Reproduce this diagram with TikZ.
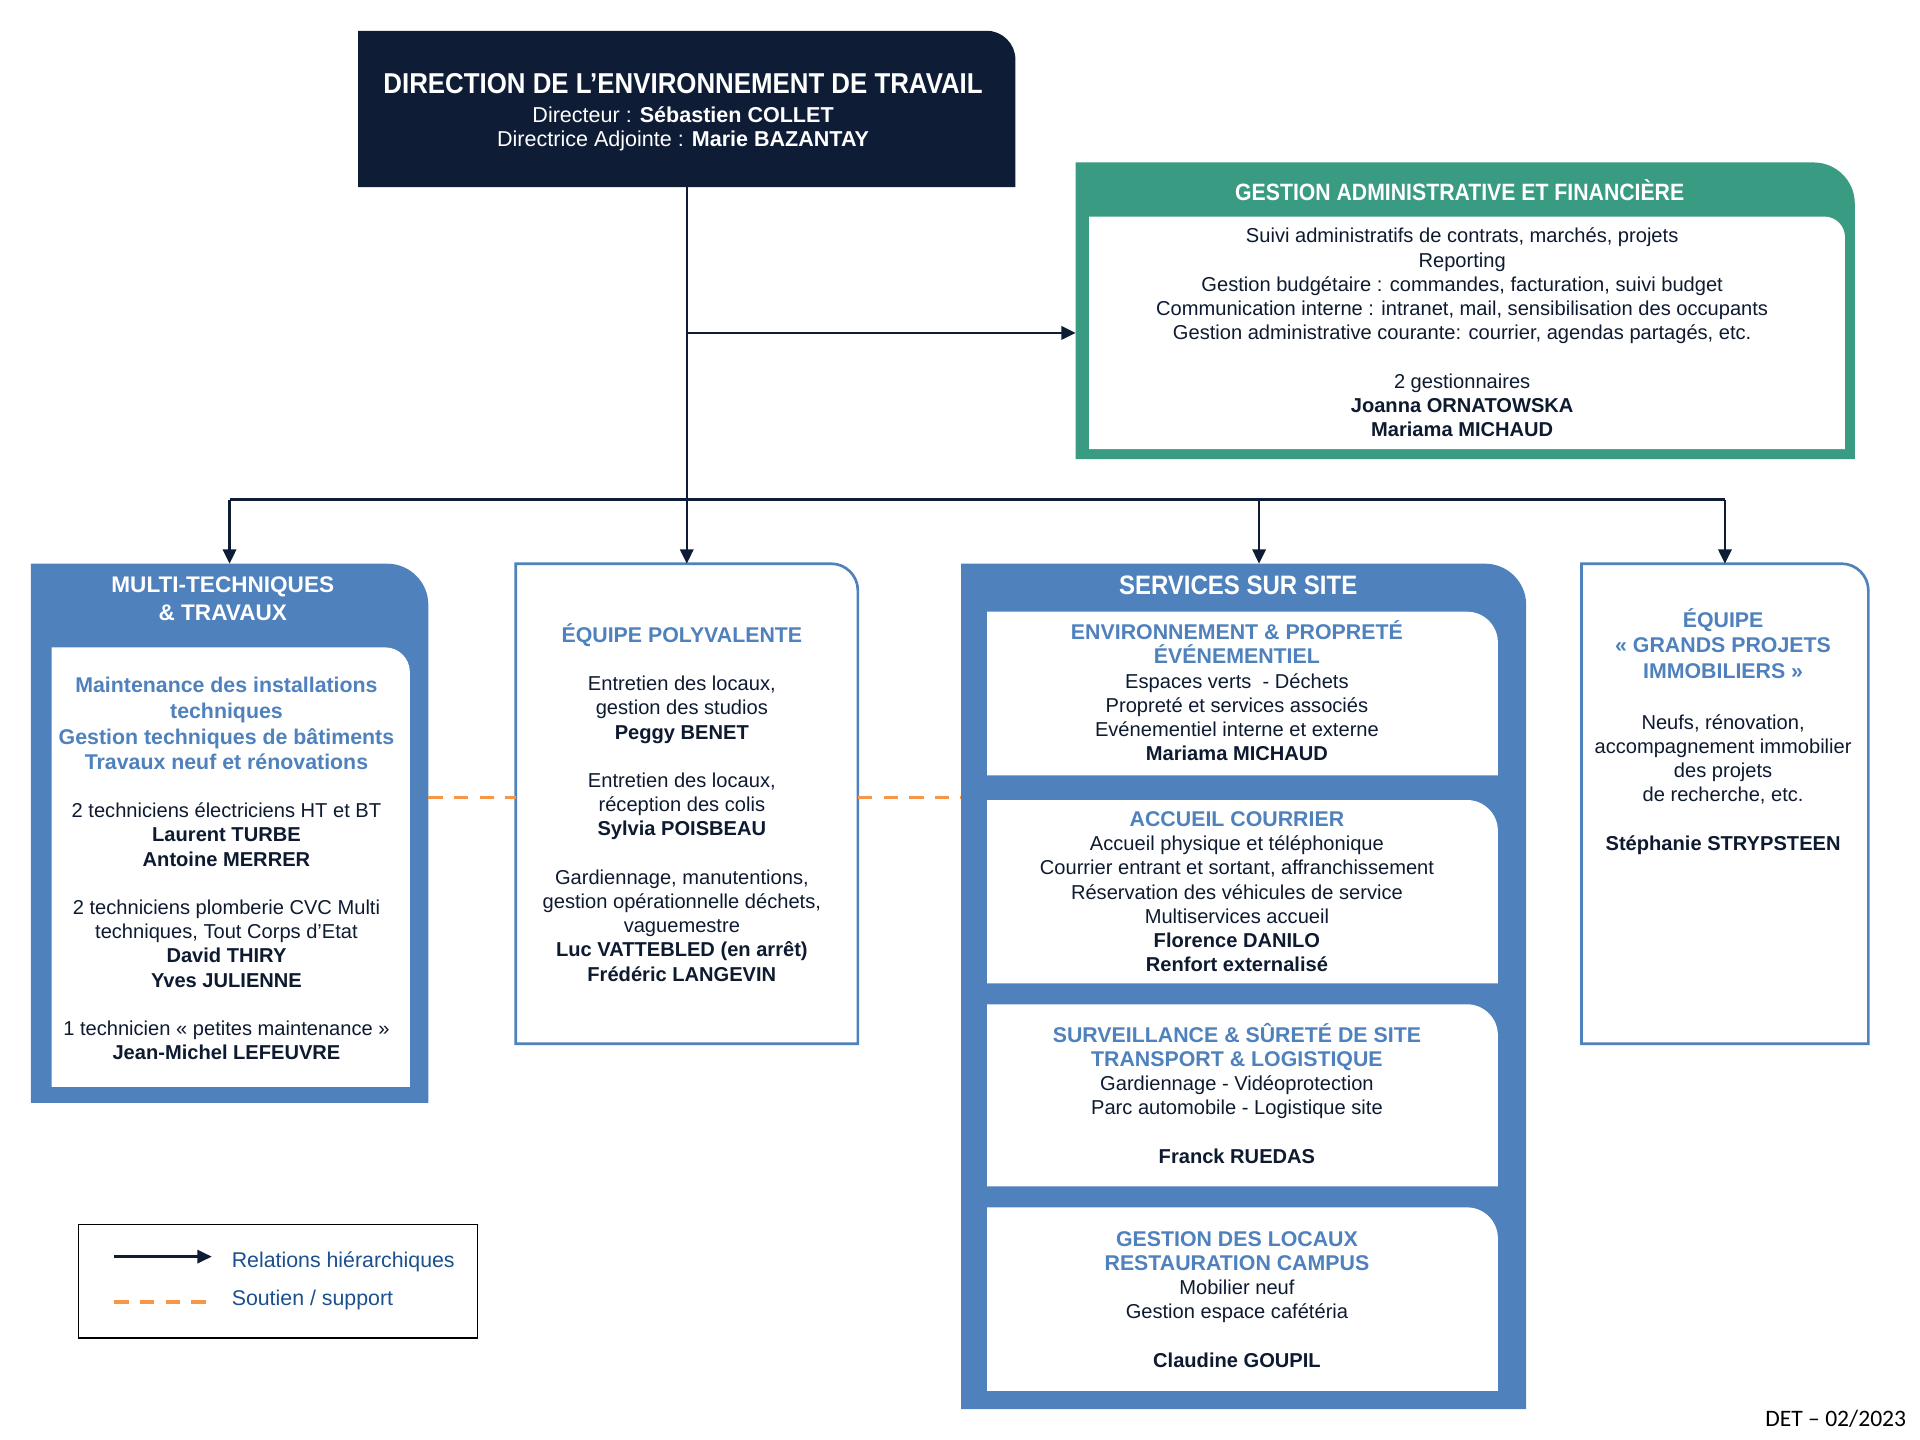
\documentclass[tikz,border=0pt]{standalone}
\usepackage{fontspec}
\setmainfont{Liberation Sans}
\newfontfamily\narrowfont[FakeStretch=0.9]{Liberation Sans}
\newfontfamily\footfont{Carlito}
\usetikzlibrary{arrows.meta, fit, positioning}

\definecolor{navy}{HTML}{0E1C36}
\definecolor{ink}{HTML}{0E1A30}
\definecolor{unitblue}{HTML}{4F81BD}
\definecolor{gafgreen}{HTML}{3A9B83}
\definecolor{supportorange}{HTML}{F79646}
\definecolor{legendblue}{HTML}{1B4F8E}

\newcommand\headline{\fontsize{10.4}{12}\selectfont\bfseries\color{unitblue}}

% box with one rounded corner (top right)
\newcommand\tabshape[3]{%
  \path[#2] (#1.south west) -- (#1.north west)
    -- ([xshift=-#3]#1.north east)
    .. controls ([xshift=-0.45*#3]#1.north east) and ([yshift=-0.45*#3]#1.north east) ..
    ([yshift=-#3]#1.north east) -- (#1.south east) -- cycle;
}

\tikzset{
  frame/.style={inner sep=0pt, outer sep=0pt},
  hier/.style={draw=navy, line width=1.2pt, -{Triangle[length=7pt, width=6.5pt]}},
  bus/.style={draw=navy, line width=1.2pt},
  support/.style={draw=supportorange, line width=1.8pt, dash pattern=on 7pt off 5.5pt},
  bodytext/.style={align=center, inner sep=0pt, text=ink, font=\fontsize{9.8}{11.8}\selectfont},
  unithead/.style={align=center, inner sep=0pt, text=unitblue, font=\fontsize{10.4}{12.5}\selectfont\bfseries},
  unittitle/.style={align=center, inner sep=0pt, text=white},
  legendtext/.style={inner sep=0pt, text=legendblue, font=\fontsize{10.4}{12}\selectfont},
}

\begin{document}
\begin{tikzpicture}[x=0.6pt, y=-0.6pt]
\useasboundingbox (0,0) rectangle (1560,1170);

% frames
\node[frame, fit={(291,25) (825,152)}] (dir) {};
\node[frame, fit={(874,132) (1507,373)}] (gaf) {};
\node[frame, fit={(885,176) (1499,365)}] (gafin) {};
\node[frame, fit={(25,458) (348,896)}] (mt) {};
\node[frame, fit={(42,526) (333,883)}] (mtin) {};
\node[frame, fit={(419,458) (697,848)}] (ep) {};
\node[frame, fit={(781,458) (1240,1145)}] (ss) {};
\node[frame, fit={(802,497) (1217,630)}] (ssA) {};
\node[frame, fit={(802,650) (1217,799)}] (ssB) {};
\node[frame, fit={(802,816) (1217,964)}] (ssC) {};
\node[frame, fit={(802,981) (1217,1130)}] (ssD) {};
\node[frame, fit={(1285,458) (1518,848)}] (gp) {};
\node[frame, draw=black, line width=0.7pt, fit={(64,995) (388,1087)}] (legend) {};

\tabshape{dir}{fill=navy}{14pt}
\tabshape{gaf}{fill=gafgreen}{20pt}
\tabshape{gafin}{fill=white}{10pt}
\tabshape{mt}{fill=unitblue}{20pt}
\tabshape{mtin}{fill=white}{12pt}
\tabshape{ep}{draw=unitblue, line width=1.3pt, fill=white}{13pt}
\tabshape{ss}{fill=unitblue}{20pt}
\tabshape{ssA}{fill=white}{15pt}
\tabshape{ssB}{fill=white}{15pt}
\tabshape{ssC}{fill=white}{15pt}
\tabshape{ssD}{fill=white}{15pt}
\tabshape{gp}{draw=unitblue, line width=1.3pt, fill=white}{13pt}

% direction
\node[unittitle, font=\narrowfont\bfseries\fontsize{14}{16}\selectfont, anchor=base]
  (dirtitle) at (555,76) {DIRECTION DE L’ENVIRONNEMENT DE TRAVAIL};
\node[unittitle, font=\fontsize{10.5}{12}\selectfont, anchor=north]
  (dirnames) at (555,86)
  {Directeur : \textbf{Sébastien COLLET}\\Directrice Adjointe : \textbf{Marie BAZANTAY}};

% gestion administrative
\node[unittitle, font=\narrowfont\bfseries\fontsize{11.5}{14}\selectfont, anchor=base]
  (gaftitle) at (1186,163) {GESTION ADMINISTRATIVE ET FINANCIÈRE};
\node[bodytext, anchor=north] (gaftext) at (1188,185)
  {Suivi administratifs de contrats, marchés, projets\\
   Reporting\\
   Gestion budgétaire : commandes, facturation, suivi budget\\
   Communication interne : intranet, mail, sensibilisation des occupants\\
   Gestion administrative courante: courrier, agendas partagés, etc.\\[11.8pt]
   2 gestionnaires\\
   \textbf{Joanna ORNATOWSKA}\\
   \textbf{Mariama MICHAUD}};

% multi-techniques
\node[unittitle, font=\bfseries\fontsize{11}{13.8}\selectfont, anchor=north]
  (mttitle) at (181,468) {MULTI-TECHNIQUES\\\& TRAVAUX};
\node[unithead, anchor=north] (mthead) at (184,550)
  {Maintenance des installations\\
   techniques\\
   Gestion techniques de bâtiments\\
   Travaux neuf et rénovations};
\node[bodytext, anchor=north] (mttext) at (184,652)
  {2 techniciens électriciens HT et BT\\
   \textbf{Laurent TURBE}\\
   \textbf{Antoine MERRER}\\[11.8pt]
   2 techniciens plomberie CVC Multi\\
   techniques, Tout Corps d’Etat\\
   \textbf{David THIRY}\\
   \textbf{Yves JULIENNE}\\[11.8pt]
   1 technicien « petites maintenance »\\
   \textbf{Jean-Michel LEFEUVRE}};

% equipe polyvalente
\node[unithead, anchor=north] (ephead) at (554,506) {ÉQUIPE POLYVALENTE};
\node[bodytext, anchor=north] (eptext) at (554,549)
  {Entretien des locaux,\\
   gestion des studios\\
   \textbf{Peggy BENET}\\[11.8pt]
   Entretien des locaux,\\
   réception des colis\\
   \textbf{Sylvia POISBEAU}\\[11.8pt]
   Gardiennage, manutentions,\\
   gestion opérationnelle déchets,\\
   vaguemestre\\
   \textbf{Luc VATTEBLED (en arrêt)}\\
   \textbf{Frédéric LANGEVIN}};

% services sur site
\node[unittitle, font=\narrowfont\bfseries\fontsize{13}{15}\selectfont, anchor=base]
  (sstitle) at (1006,483) {SERVICES SUR SITE};
\node[bodytext, anchor=north] (ssAtext) at (1005,504)
  {{\headline ENVIRONNEMENT \& PROPRETÉ}\\
   {\headline ÉVÉNEMENTIEL}\\
   Espaces verts~ - Déchets\\
   Propreté et services associés\\
   Evénementiel interne et externe\\
   \textbf{Mariama MICHAUD}};
\node[bodytext, anchor=north] (ssBtext) at (1005,659)
  {{\headline ACCUEIL COURRIER}\\
   Accueil physique et téléphonique\\
   Courrier entrant et sortant, affranchissement\\
   Réservation des véhicules de service\\
   Multiservices accueil\\
   \textbf{Florence DANILO}\\
   \textbf{Renfort externalisé}};
\node[bodytext, anchor=north] (ssCtext) at (1005,831)
  {{\headline SURVEILLANCE \& SÛRETÉ DE SITE}\\
   {\headline TRANSPORT \& LOGISTIQUE}\\
   Gardiennage - Vidéoprotection\\
   Parc automobile - Logistique site\\[11.8pt]
   \textbf{Franck RUEDAS}};
\node[bodytext, anchor=north] (ssDtext) at (1005,1000)
  {{\headline GESTION DES LOCAUX}\\
   {\headline RESTAURATION CAMPUS}\\
   Mobilier neuf\\
   Gestion espace cafétéria\\[11.8pt]
   \textbf{Claudine GOUPIL}};

% grands projets
\node[unithead, anchor=north] (gphead) at (1400,494)
  {ÉQUIPE\\« GRANDS PROJETS\\IMMOBILIERS »};
\node[bodytext, anchor=north] (gptext) at (1400,580)
  {Neufs, rénovation,\\
   accompagnement immobilier\\
   des projets\\
   de recherche, etc.\\[11.8pt]
   \textbf{Stéphanie STRYPSTEEN}};

% hierarchy
\coordinate (bus) at (558,406);
\coordinate (ssdrop) at (1023,406);
\draw[hier] (dir.south) -- (ep.north);
\draw[hier] (dir.south |- gafin.west) -- (gaf.west |- gafin.west);
\draw[bus] (bus -| mt.north) -- (bus -| gp.north);
\draw[hier] (bus -| mt.north) -- (mt.north);
\draw[hier] (ssdrop) -- (ssdrop |- ss.north);
\draw[hier] (bus -| gp.north) -- (gp.north);

% support
\coordinate (supp) at (0,648);
\draw[support] (mt.east |- supp) -- (ep.west |- supp);
\draw[support] (ep.east |- supp) -- (ss.west |- supp);

% legend
\coordinate (lgH) at (93,1021);
\coordinate (lgS) at (93,1058);
\draw[hier] (lgH) -- ++(79,0) coordinate (lgHend);
\draw[support] (lgS) -- ++(79,0) coordinate (lgSend);
\node[legendtext, anchor=base west] (lgHtext) at (188,1030) {Relations hiérarchiques};
\node[legendtext, anchor=base west] (lgStext) at (188,1061) {Soutien / support};

% date
\node[inner sep=0pt, anchor=base west, font=\footfont\fontsize{11.5}{13}\selectfont]
  (date) at (1434,1159) {DET – 02/2023};

\end{tikzpicture}
\end{document}
